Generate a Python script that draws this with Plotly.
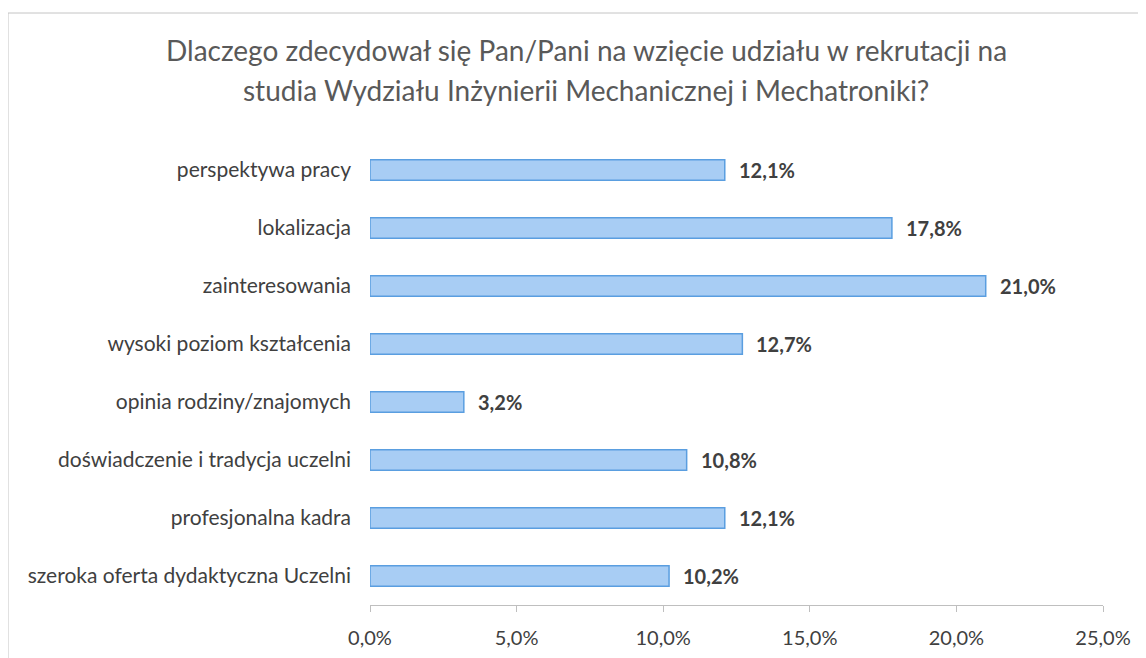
import plotly.graph_objects as go

categories = [
    "perspektywa pracy",
    "lokalizacja",
    "zainteresowania",
    "wysoki poziom kształcenia",
    "opinia rodziny/znajomych",
    "doświadczenie i tradycja uczelni",
    "profesjonalna kadra",
    "szeroka oferta dydaktyczna Uczelni",
]
values = [12.1, 17.8, 21.0, 12.7, 3.2, 10.8, 12.1, 10.2]
tick_vals = [0, 5, 10, 15, 20, 25]
title_lines = [
    "Dlaczego zdecydował się Pan/Pani na wzięcie udziału w rekrutacji na",
    "studia Wydziału Inżynierii Mechanicznej i Mechatroniki?",
]

FONT = "Lato"
TXT = "#404040"


def pct(v):
    return f"{v:.1f}".replace(".", ",") + "%"


# figure is offset by the 8px page body margin
W, H = 1138, 650
L, R, T, B = 362, 43, 133, 53
PW, PH = W - L - R, H - T - B

fig = go.Figure(
    go.Bar(
        y=categories,
        x=values,
        orientation="h",
        width=0.35,
        marker=dict(color="#a8cdf4", line=dict(color="#5a9ee0", width=1.5)),
        hoverinfo="skip",
    )
)

annotations = []
for c, v in zip(categories, values):
    annotations.append(
        dict(
            x=v, y=c, xref="x", yref="y", text=pct(v), showarrow=False,
            xanchor="left", yanchor="middle", xshift=12,
            font=dict(family=FONT, size=20, color=TXT, weight="bold"),
        )
    )

title_y = [42, 82]
for line, ty in zip(title_lines, title_y):
    annotations.append(
        dict(
            x=(578 - L) / PW, y=(T + PH - ty) / PH, xref="paper", yref="paper",
            text=line, showarrow=False, xanchor="center", yanchor="middle",
            font=dict(family=FONT, size=28, color="#595959"),
        )
    )

fig.update_layout(
    width=W,
    height=H,
    margin=dict(l=L, r=R, t=T, b=B),
    paper_bgcolor="white",
    plot_bgcolor="white",
    showlegend=False,
    annotations=annotations,
    xaxis=dict(
        range=[0, 25],
        tickvals=tick_vals,
        ticktext=[pct(t) for t in tick_vals],
        showgrid=False,
        zeroline=False,
        showline=True,
        linecolor="#bfbfbf",
        linewidth=1,
        ticks="outside",
        ticklen=6,
        tickcolor="#bfbfbf",
        ticklabelstandoff=9,
        automargin=False,
        tickfont=dict(family=FONT, size=20, color=TXT),
    ),
    yaxis=dict(
        categoryorder="array",
        categoryarray=categories[::-1],
        showgrid=False,
        zeroline=False,
        showline=False,
        ticks="",
        ticklabelstandoff=18,
        automargin=False,
        tickfont=dict(family=FONT, size=21, color=TXT),
    ),
    shapes=[
        dict(
            type="rect",
            xref="paper",
            yref="paper",
            x0=(0 - L) / PW,
            x1=(W + 10 - L) / PW,
            y0=(T + PH - (H + 10)) / PH,
            y1=(T + PH - 5) / PH,
            line=dict(color="#c4c4c4", width=1),
            layer="above",
        )
    ],
)

fig.write_html("out.html")
